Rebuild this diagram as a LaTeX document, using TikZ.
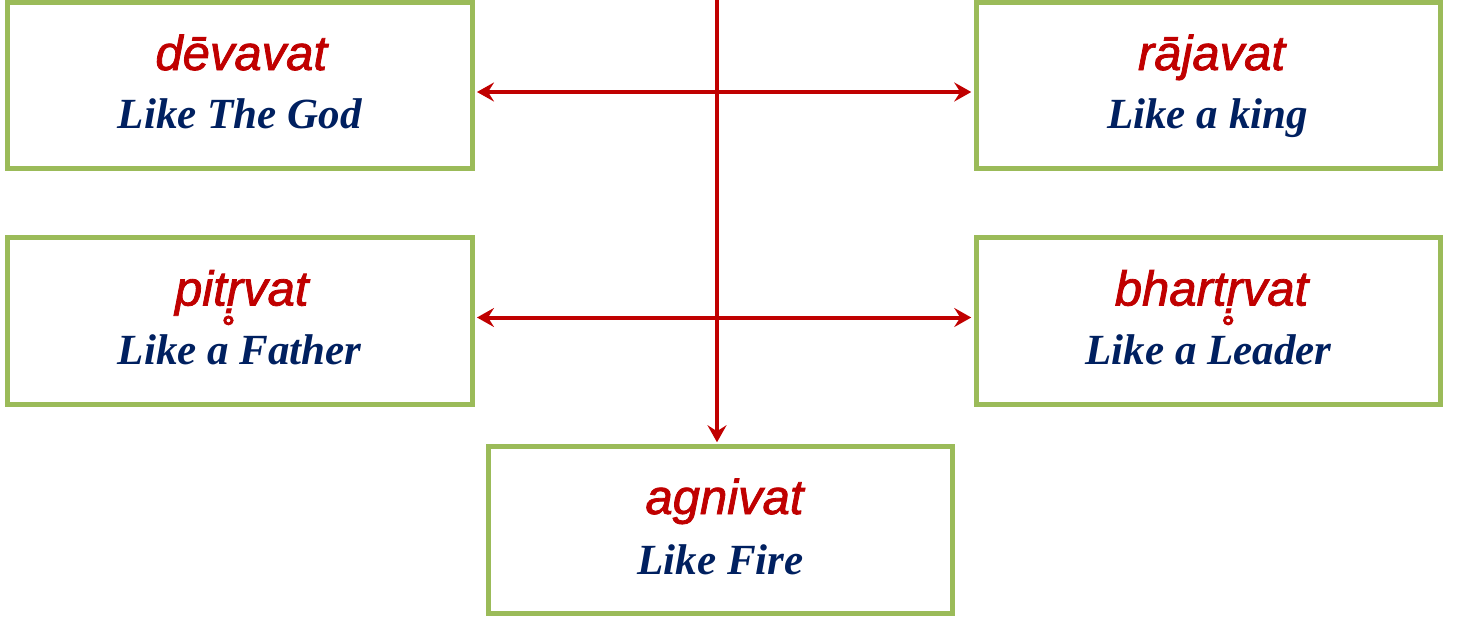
\documentclass[tikz,border=0pt]{standalone}
\usepackage{fontspec}
\setmainfont{Liberation Serif}
\newfontface\skfont{Liberation Sans Italic}[FakeBold=1.6]
\usetikzlibrary{arrows.meta,calc}
\definecolor{boxgreen}{HTML}{9BBB59}
\definecolor{arrred}{HTML}{C00000}
\definecolor{navy}{HTML}{002060}
\tikzset{
 box/.style={draw=boxgreen,line width=5pt,minimum width=464.5pt,minimum height=166.5pt,inner sep=0pt,fill=white},
 sk/.style={font=\skfont\fontsize{49}{49}\selectfont,text=arrred,anchor=base,inner sep=0pt},
 en/.style={font=\bfseries\itshape\fontsize{43}{43}\selectfont,text=navy,anchor=base,inner sep=0pt},
 conn/.style={draw=arrred,line width=4pt},
 onetip/.style={-{Stealth[length=17pt,width=19pt,inset=6pt]},shorten >=2pt},
 twotip/.style={{Stealth[length=17pt,width=19pt,inset=6pt]}-{Stealth[length=17pt,width=19pt,inset=6pt]},shorten >=2.5pt,shorten <=2.5pt}
}
\begin{document}
\begin{tikzpicture}[x=1pt,y=-1pt]
\useasboundingbox (0,0) rectangle (1463,621);
\node[box] (tl) at (239.75,85.5) {};
\node[box] (tr) at (1208.5,85.5) {};
\node[box] (ml) at (239.75,321) {};
\node[box] (mr) at (1208.5,321) {};
\node[box] (bot) at (720.5,530) {};
\node[sk] (tlsk) at ($(tl.center)+(1.5,-15.5)$) {dēvavat};
\node[en] (tlen) at ($(tl.center)+(0,43)$) {Like The God};
\node[sk] (trsk) at ($(tr.center)+(3,-15.5)$) {rājavat};
\node[en] (tren) at ($(tr.center)+(-1,43)$) {Like a king};
\node[sk] (mlsk) at ($(ml.center)+(2,-15.5)$) {pitṛ̥vat};
\node[en] (mlen) at ($(ml.center)+(0,43)$) {Like a Father};
\node[sk] (mrsk) at ($(mr.center)+(3,-15.5)$) {bhartṛ̥vat};
\node[en] (mren) at ($(mr.center)+(0,43)$) {Like a Leader};
\node[sk] (botsk) at ($(bot.center)+(4,-16)$) {agnivat};
\node[en] (boten) at ($(bot.center)+(0,44)$) {Like Fire};
\coordinate (vt) at (717,0);
\coordinate (h1) at (717,92);
\coordinate (h2) at (717,317.5);
\draw[conn,onetip] (vt) -- (vt |- bot.north);
\draw[conn,twotip] (tl.east |- h1) -- (tr.west |- h1);
\draw[conn,twotip] (ml.east |- h2) -- (mr.west |- h2);
\end{tikzpicture}
\end{document}
